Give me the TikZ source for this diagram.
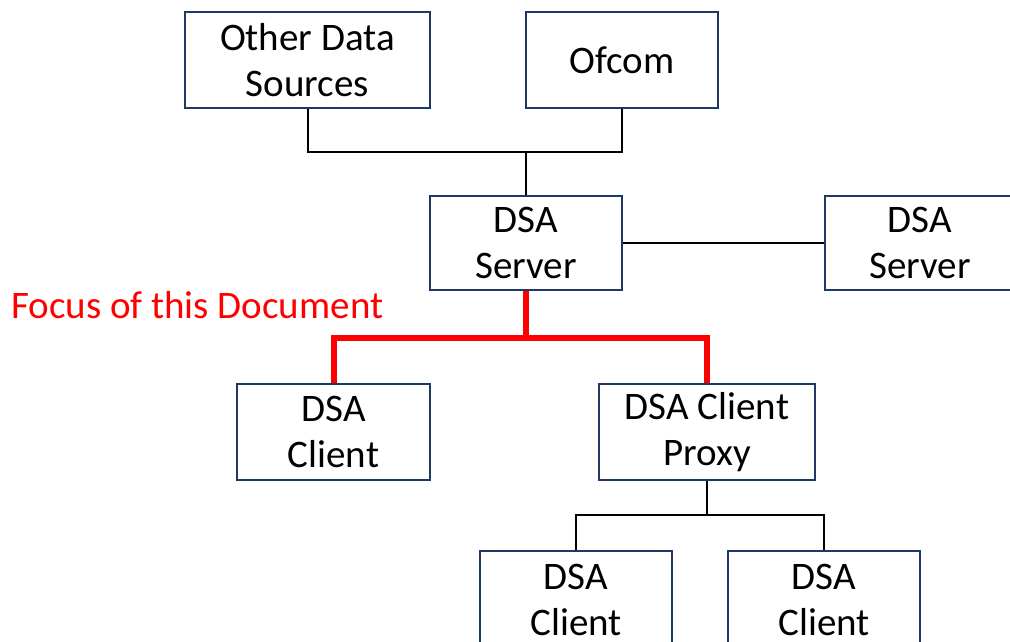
\documentclass[tikz,border=0pt]{standalone}
\usepackage{fontspec}
\setmainfont{Carlito}
\definecolor{boxline}{HTML}{203864}
\begin{document}
\begin{tikzpicture}[x=1pt,y=-1pt,
  blk/.style={draw=boxline,line width=2pt,fill=white,align=center,inner sep=0pt,
    font=\fontsize{39}{46}\selectfont},
  wire/.style={line width=2pt,black},
  focus/.style={line width=6pt,red}]
\clip (0,0) rectangle (1010,642);
\fill[white] (0,0) rectangle (1010,642);
\node[blk,minimum width=245pt,minimum height=95pt] (ods) at (307.5,60) {Other Data\\Sources};
\node[blk,minimum width=192pt,minimum height=95pt] (ofcom) at (622,60) {Ofcom};
\node[blk,minimum width=192pt,minimum height=94pt] (srv1) at (526,243) {DSA\\Server};
\node[blk,minimum width=190pt,minimum height=94pt] (srv2) at (920,243) {DSA\\Server};
\node[blk,minimum width=193pt,minimum height=96pt] (cli1) at (333.5,432) {DSA\\Client};
\node[blk,minimum width=216pt,minimum height=96pt] (proxy) at (707,432) {DSA Client\\Proxy};
\node[blk,minimum width=192pt,minimum height=98pt] (cl2) at (576,600) {DSA\\Client};
\node[blk,minimum width=192pt,minimum height=98pt] (cl3) at (824,600) {DSA\\Client};
\node[anchor=west,text=red,inner sep=0pt,font=\fontsize{39}{46}\selectfont] (focus) at (11,305) {Focus of this Document};
\coordinate (j1) at (526,152);
\coordinate (j2) at (526,338);
\coordinate (j3) at (707,515);
\draw[wire] (ods.south) |- (j1) -| (ofcom.south);
\draw[wire] (j1) -- (srv1.north);
\draw[wire] (srv1.east) -- (srv2.west);
\draw[focus] (srv1.south) -- (j2);
\draw[focus] (cli1.north) |- (j2) -| (proxy.north);
\draw[wire] (proxy.south) -- (j3);
\draw[wire] (cl2.north) |- (j3) -| (cl3.north);
\end{tikzpicture}
\end{document}
